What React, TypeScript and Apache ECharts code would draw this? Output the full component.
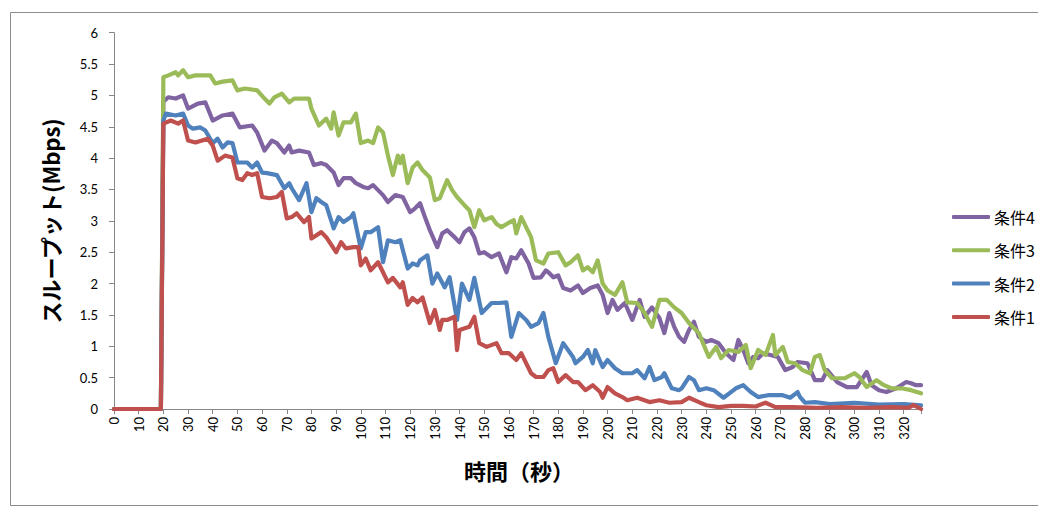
import React, { useEffect, useRef } from "react";
import * as echarts from "echarts";

// time (s), throughput (Mbps) pairs
const cond4: [number, number][] = [
  [0, 0], [19, 0], [20, 4.9], [22, 4.97], [25, 4.95], [28, 5.0], [30, 4.79], [34, 4.87], [37, 4.89],
  [40, 4.6], [44, 4.68], [48, 4.71], [51, 4.49], [56, 4.52], [58, 4.41], [61, 4.12], [64, 4.28],
  [66, 4.24], [69, 4.09], [71, 4.2], [72, 4.09], [75, 4.12], [79, 4.09], [81, 3.89], [84, 3.92],
  [86, 3.89], [89, 3.77], [91, 3.57], [93, 3.68], [96, 3.68], [98, 3.6], [101, 3.54], [103, 3.52],
  [105, 3.57], [109, 3.41], [111, 3.3], [114, 3.41], [117, 3.38], [120, 3.14], [122, 3.2], [124, 3.28],
  [126, 3.06], [128, 2.85], [131, 2.58], [133, 2.8], [135, 2.85], [138, 2.74], [140, 2.66], [142, 2.82],
  [144, 2.88], [146, 2.74], [148, 2.48], [150, 2.5], [153, 2.42], [156, 2.48], [159, 2.18], [161, 2.42],
  [163, 2.4], [165, 2.53], [168, 2.32], [170, 2.09], [173, 2.1], [175, 2.21], [176, 2.18], [178, 2.1],
  [180, 2.13], [182, 1.93], [185, 1.89], [188, 1.97], [190, 1.85], [193, 1.93], [196, 1.97], [198, 1.82],
  [200, 1.53], [202, 1.74], [204, 1.58], [207, 1.69], [210, 1.42], [213, 1.74], [215, 1.47], [218, 1.62],
  [221, 1.45], [223, 1.21], [225, 1.53], [227, 1.31], [229, 1.15], [231, 1.07], [233, 1.26], [235, 1.39],
  [237, 1.15], [240, 1.07], [242, 1.1], [245, 1.05], [248, 0.89], [251, 0.78], [253, 1.1], [255, 0.94],
  [257, 0.73], [259, 0.83], [261, 0.81], [263, 0.89], [266, 0.86], [269, 0.83], [272, 0.62], [275, 0.67],
  [277, 0.75], [281, 0.73], [284, 0.46], [287, 0.46], [289, 0.62], [293, 0.43], [297, 0.35], [301, 0.35],
  [305, 0.59], [307, 0.38], [310, 0.3], [313, 0.27], [317, 0.33], [321, 0.43], [323, 0.41], [325, 0.38],
  [327, 0.38],
];

const cond3: [number, number][] = [
  [0, 0], [19, 0], [20, 5.29], [22, 5.32], [25, 5.37], [26, 5.32], [28, 5.4], [30, 5.29], [33, 5.32],
  [39, 5.32], [41, 5.19], [44, 5.22], [48, 5.24], [50, 5.08], [53, 5.11], [58, 5.08], [61, 4.95],
  [63, 4.87], [65, 4.97], [68, 5.03], [71, 4.89], [73, 4.95], [79, 4.95], [80, 4.79], [83, 4.52],
  [86, 4.63], [88, 4.47], [89, 4.73], [91, 4.36], [93, 4.57], [96, 4.57], [98, 4.71], [100, 4.24],
  [103, 4.28], [105, 4.24], [107, 4.49], [109, 4.41], [111, 4.04], [113, 3.73], [115, 4.04], [116, 3.92],
  [117, 4.04], [119, 3.6], [121, 3.85], [123, 3.93], [125, 3.81], [128, 3.69], [130, 3.33], [132, 3.36],
  [135, 3.65], [137, 3.49], [139, 3.38], [142, 3.25], [144, 3.17], [146, 2.9], [148, 3.17], [150, 3.01],
  [153, 3.06], [155, 2.95], [157, 2.9], [160, 2.97], [162, 3.01], [163, 2.8], [165, 3.06], [169, 2.74],
  [171, 2.37], [174, 2.32], [176, 2.48], [180, 2.5], [183, 2.29], [185, 2.34], [188, 2.45], [190, 2.21],
  [192, 2.26], [194, 2.18], [196, 2.37], [198, 2.0], [200, 1.89], [203, 1.82], [206, 2.02], [208, 1.7],
  [212, 1.69], [215, 1.53], [218, 1.31], [221, 1.74], [224, 1.74], [227, 1.62], [230, 1.53], [233, 1.37],
  [237, 1.21], [241, 0.83], [244, 0.99], [246, 0.81], [249, 0.94], [253, 0.91], [256, 1.02], [258, 0.65],
  [261, 0.94], [264, 0.86], [267, 1.18], [268, 0.86], [271, 0.99], [273, 0.75], [276, 0.73], [279, 0.62],
  [282, 0.57], [284, 0.83], [286, 0.86], [288, 0.62], [291, 0.49], [296, 0.49], [300, 0.57], [302, 0.51],
  [305, 0.35], [309, 0.46], [312, 0.38], [315, 0.33], [319, 0.33], [323, 0.3], [327, 0.25],
];

const cond2: [number, number][] = [
  [0, 0], [19, 0], [20, 4.6], [21, 4.71], [25, 4.68], [28, 4.71], [30, 4.52], [32, 4.47], [35, 4.49],
  [37, 4.44], [40, 4.24], [42, 4.31], [44, 4.17], [46, 4.25], [48, 4.24], [50, 3.93], [54, 3.93],
  [56, 3.85], [58, 3.93], [60, 3.77], [62, 3.76], [66, 3.73], [69, 3.52], [71, 3.6], [72, 3.52],
  [75, 3.33], [78, 3.6], [80, 3.14], [82, 3.36], [84, 3.3], [86, 3.25], [89, 2.88], [91, 3.06],
  [93, 2.98], [96, 3.06], [97, 3.12], [100, 2.56], [102, 2.82], [104, 2.82], [107, 2.9], [109, 2.34],
  [111, 2.69], [114, 2.66], [116, 2.69], [119, 2.24], [121, 2.32], [123, 2.29], [124, 2.37], [127, 2.45],
  [129, 2.0], [131, 2.16], [134, 1.94], [136, 2.1], [139, 1.42], [141, 2.0], [144, 1.74], [146, 2.09],
  [149, 1.53], [153, 1.69], [156, 1.69], [159, 1.7], [161, 1.15], [164, 1.53], [167, 1.42], [169, 1.31],
  [172, 1.37], [174, 1.53], [176, 1.15], [179, 0.73], [182, 1.05], [186, 0.83], [187, 0.73], [190, 0.83],
  [192, 0.94], [194, 0.73], [195, 0.94], [198, 0.67], [200, 0.78], [203, 0.65], [206, 0.57], [210, 0.57],
  [212, 0.62], [215, 0.49], [217, 0.67], [219, 0.46], [222, 0.51], [223, 0.57], [226, 0.33], [229, 0.3],
  [230, 0.33], [233, 0.51], [235, 0.46], [237, 0.3], [240, 0.33], [243, 0.3], [247, 0.18], [250, 0.27],
  [252, 0.33], [255, 0.38], [258, 0.27], [261, 0.19], [265, 0.22], [271, 0.22], [274, 0.18], [277, 0.27],
  [278, 0.19], [280, 0.1], [284, 0.11], [290, 0.08], [300, 0.1], [310, 0.07], [320, 0.08], [327, 0.06],
];

const cond1: [number, number][] = [
  [0, 0], [19, 0], [20, 4.55], [23, 4.6], [26, 4.55], [28, 4.6], [30, 4.28], [33, 4.25], [38, 4.31],
  [40, 4.2], [42, 3.96], [45, 4.04], [48, 4.01], [50, 3.68], [52, 3.65], [54, 3.76], [56, 3.73],
  [58, 3.76], [60, 3.38], [63, 3.36], [66, 3.38], [68, 3.46], [70, 3.04], [72, 3.06], [74, 3.12],
  [77, 2.98], [79, 3.06], [80, 2.72], [84, 2.82], [86, 2.74], [90, 2.5], [92, 2.66], [94, 2.56],
  [97, 2.58], [99, 2.58], [100, 2.29], [102, 2.4], [104, 2.21], [107, 2.34], [109, 2.18], [111, 2.02],
  [113, 2.09], [116, 1.94], [117, 2.02], [119, 1.66], [121, 1.77], [123, 1.7], [125, 1.78], [128, 1.37],
  [130, 1.58], [132, 1.26], [133, 1.42], [135, 1.42], [138, 1.47], [139, 0.94], [140, 1.26], [144, 1.31],
  [146, 1.47], [148, 1.05], [151, 0.99], [155, 1.05], [157, 0.89], [160, 0.89], [163, 0.78], [165, 0.89],
  [169, 0.57], [171, 0.51], [174, 0.51], [176, 0.62], [178, 0.65], [180, 0.43], [183, 0.54], [186, 0.43],
  [188, 0.43], [191, 0.3], [194, 0.38], [197, 0.27], [198, 0.18], [200, 0.35], [203, 0.25], [206, 0.19],
  [208, 0.14], [212, 0.18], [217, 0.11], [221, 0.14], [225, 0.1], [230, 0.11], [233, 0.18], [237, 0.11],
  [240, 0.06], [245, 0.03], [250, 0.05], [255, 0.05], [260, 0.04], [264, 0.1], [268, 0.03], [275, 0.03],
  [285, 0.02], [295, 0.03], [305, 0.02], [315, 0.03], [322, 0.02], [324, 0.06], [327, 0.0],
];

const seriesNames = ["条件4", "条件3", "条件2", "条件1"];
const seriesColors = ["#8064A2", "#9BBB59", "#4F81BD", "#C0504D"];
const seriesData = [cond4, cond3, cond2, cond1];

const yTitle = "スループット(Mbps)";
const xTitle = "時間（秒）";

export default function App() {
  const ref = useRef<HTMLDivElement>(null);
  useEffect(() => {
    if (!ref.current) return;
    const chart = echarts.init(ref.current, undefined, { renderer: "svg" });
    const axisColor = "#868686";
    chart.setOption({
      animation: false,
      backgroundColor: "#ffffff",
      grid: { left: 114, top: 32.7, right: 117, bottom: 98 },
      xAxis: {
        type: "value",
        min: 0,
        max: 327,
        interval: 10,
        axisLine: { show: true, lineStyle: { color: axisColor, width: 1 } },
        axisTick: { show: true, length: 5, lineStyle: { color: axisColor } },
        splitLine: { show: false },
        axisLabel: {
          rotate: 90,
          margin: 8,
          fontFamily: "Lato",
          fontSize: 13,
          color: "#000",
          formatter: (v: number) => (v % 10 === 0 ? String(v) : ""),
        },
      },
      yAxis: {
        type: "value",
        min: 0,
        max: 6,
        interval: 0.5,
        axisLine: { show: true, lineStyle: { color: axisColor, width: 1 } },
        axisTick: { show: true, length: 5, lineStyle: { color: axisColor } },
        splitLine: { show: false },
        axisLabel: { margin: 16, fontFamily: "Lato", fontSize: 13, color: "#000" },
      },
      legend: {
        orient: "vertical",
        left: 947,
        top: 204,
        itemWidth: 38,
        itemHeight: 4,
        itemGap: 17.3,
        icon: "roundRect",
        data: seriesNames,
        textStyle: {
          fontFamily: "Noto Sans CJK JP",
          fontSize: 16,
          lineHeight: 16,
          color: "#000",
          padding: [0, 0, 0, -1],
        },
      },
      series: seriesNames.map((name, i) => ({
        name,
        type: "line",
        data: seriesData[i],
        showSymbol: false,
        symbol: "none",
        color: seriesColors[i],
        lineStyle: { width: 4.2, color: seriesColors[i], cap: "round", join: "round" },
      })),
      graphic: [
        {
          type: "rect",
          silent: true,
          shape: { x: 10.5, y: 12.5, width: 1100, height: 493 },
          style: { fill: "none", stroke: "#8c8c8c", lineWidth: 1 },
        },
        {
          type: "text",
          x: 50,
          y: 221,
          rotation: Math.PI / 2,
          style: {
            text: yTitle,
            fontFamily: "Noto Sans CJK JP",
            fontWeight: "bold",
            fontSize: 22,
            fill: "#000",
            align: "center",
            verticalAlign: "middle",
          },
        },
        {
          type: "text",
          x: 519,
          y: 470,
          style: {
            text: xTitle,
            fontFamily: "Noto Sans CJK JP",
            fontWeight: "bold",
            fontSize: 22,
            fill: "#000",
            align: "center",
            verticalAlign: "middle",
          },
        },
      ],
    });
    return () => chart.dispose();
  }, []);
  return (
    <div
      ref={ref}
      style={{ position: "fixed", left: 0, top: 0, width: 1038, height: 507 }}
    />
  );
}
